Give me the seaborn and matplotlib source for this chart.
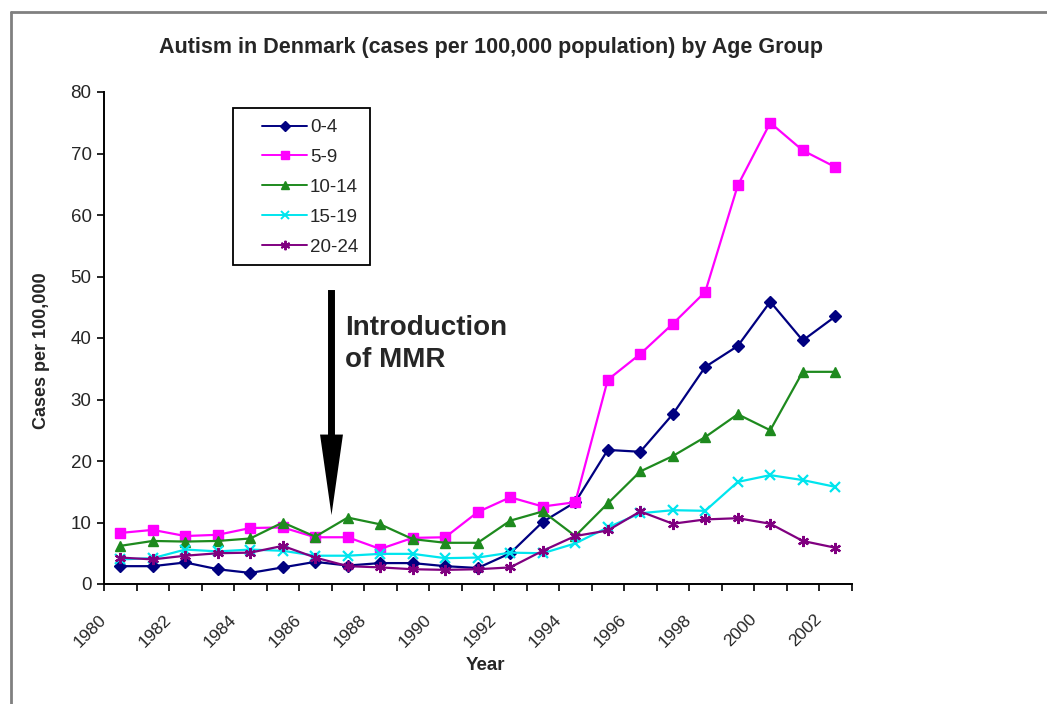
import numpy as np
import pandas as pd
import matplotlib
matplotlib.use("Agg")
import matplotlib.pyplot as plt
import matplotlib.transforms as mtransforms
from matplotlib.patches import Rectangle
from matplotlib.lines import Line2D
import seaborn as sns

# ---- data: autism cases per 100,000 population, Denmark, by age group ----
years = list(range(1980, 2003))
age_0_4 = [2.9, 2.9, 3.5, 2.4, 1.8, 2.7, 3.6, 3.0, 3.4, 3.4, 2.9, 2.6,
           5.0, 10.1, 13.3, 21.8, 21.5, 27.6, 35.3, 38.7, 45.9, 39.6, 43.5]
age_5_9 = [8.3, 8.8, 7.8, 8.0, 9.1, 9.2, 7.6, 7.6, 5.7, 7.5, 7.6, 11.7,
           14.1, 12.6, 13.3, 33.2, 37.4, 42.3, 47.5, 64.8, 75.0, 70.5, 67.8]
age_10_14 = [6.2, 7.0, 6.9, 7.0, 7.4, 10.0, 7.7, 10.8, 9.7, 7.3, 6.7, 6.7,
             10.3, 11.8, 7.8, 13.1, 18.3, 20.8, 23.9, 27.6, 25.0, 34.5, 34.5]
age_15_19 = [4.0, 4.2, 5.6, 5.3, 5.6, 5.4, 4.6, 4.6, 4.9, 4.9, 4.2, 4.3,
             5.1, 5.0, 6.6, 9.2, 11.5, 12.0, 11.9, 16.6, 17.7, 16.9, 15.8]
age_20_24 = [4.3, 4.0, 4.6, 5.0, 5.1, 6.2, 4.3, 2.9, 2.7, 2.4, 2.3, 2.4,
             2.7, 5.4, 7.8, 8.7, 11.8, 9.8, 10.5, 10.7, 9.8, 7.0, 5.9]

groups = ["0-4", "5-9", "10-14", "15-19", "20-24"]
series = [age_0_4, age_5_9, age_10_14, age_15_19, age_20_24]
year_labels = [str(y) for y in years[::2]]

colors = ["#000080", "#FF00FF", "#1E8A1E", "#00E5EE", "#800080"]
markers = ["D", "s", "^", "x", (6, 2, 0)]
msizes = [6.5, 7.5, 7.5, 7, 8]

W, H = 1047, 704


def fx(x):
    return x / W


def fy(y):
    return 1 - y / H


def is_filled(m):
    return m != "x" and not isinstance(m, tuple)


sns.set_style("white")
plt.rcParams["font.family"] = ["Liberation Sans", "DejaVu Sans"]

fig = plt.figure(figsize=(W / 100, H / 100), dpi=100)
ax = fig.add_axes([fx(104), fy(584), (851.5 - 104) / W, (584 - 92) / H])

# category positions: each year occupies one unit, point at its centre
pos = np.arange(len(years)) + 0.5
df = pd.DataFrame({"pos": np.tile(pos, len(groups)),
                   "value": np.concatenate(series),
                   "group": np.repeat(groups, len(years))})

for g, c, m, ms in zip(groups, colors, markers, msizes):
    sub = df[df["group"] == g]
    sns.lineplot(data=sub, x="pos", y="value", ax=ax, color=c, marker=m,
                 markersize=ms, linewidth=1.6, markeredgecolor=c,
                 markerfacecolor=c if is_filled(m) else "none",
                 markeredgewidth=1.0 if is_filled(m) else 1.6,
                 label=g, legend=False)

ax.set_xlim(0, len(years))
ax.set_ylim(0, 80)
ax.set_yticks(np.arange(0, 81, 10))
ax.tick_params(axis="y", which="major", direction="out", length=5, width=1.2,
               labelsize=13.5, pad=4, left=True, color="black")

# tick marks between categories, labels under every second year
ax.set_xticks(np.arange(0, len(years) + 1), minor=True)
ax.set_xticks(pos[::2])
ax.set_xticklabels(year_labels, rotation=45, ha="right", va="top")
ax.tick_params(axis="x", which="minor", direction="out", length=5, width=1.2,
               bottom=True, color="black")
ax.tick_params(axis="x", which="major", length=0, labelsize=12.5, pad=20)
shift = mtransforms.ScaledTranslation(-11 / 100, 0, fig.dpi_scale_trans)
for lbl in ax.get_xticklabels():
    lbl.set_transform(lbl.get_transform() + shift)

for side in ["top", "right"]:
    ax.spines[side].set_visible(False)
for side in ["left", "bottom"]:
    ax.spines[side].set_color("black")
    ax.spines[side].set_linewidth(1.4)
ax.set_xlabel("")
ax.set_ylabel("")
ax.grid(False)

# arrow marking the introduction of MMR
ax.annotate("", xy=(7.0, 11.2), xytext=(7.0, 47.8),
            arrowprops=dict(arrowstyle="simple,head_length=5.8,head_width=1.65,tail_width=0.5",
                            mutation_scale=10, fc="black", ec="black", lw=0,
                            shrinkA=0, shrinkB=0))
fig.text(fx(345), fy(344), "Introduction\nof MMR", fontsize=20, fontweight="bold",
         ha="left", va="center", linespacing=1.3)

# titles
fig.text(fx(491), fy(47), "Autism in Denmark (cases per 100,000 population) by Age Group",
         fontsize=15.5, fontweight="bold", ha="center", va="center")
fig.text(fx(42), fy(351), "Cases per 100,000", fontsize=13, fontweight="bold",
         rotation=90, ha="center", va="center")
fig.text(fx(485), fy(666), "Year", fontsize=13.5, fontweight="bold",
         ha="center", va="center")

# legend with a plain black frame
fig.patches.append(Rectangle((fx(233), fy(265)), fx(370) - fx(233), fy(108) - fy(265),
                             transform=fig.transFigure, fill=False,
                             edgecolor="black", linewidth=1.3))
handles = [Line2D([], [], color=c, marker=m, markersize=ms * 0.85, linewidth=1.4,
                  markeredgecolor=c,
                  markerfacecolor=c if is_filled(m) else "none",
                  markeredgewidth=1.0 if is_filled(m) else 1.4)
           for c, m, ms in zip(colors, markers, msizes)]
fig.legend(handles, groups, loc="upper left", bbox_to_anchor=(fx(262), fy(119)),
           frameon=False, fontsize=13.5, handlelength=2.4, handletextpad=0.15,
           labelspacing=0.68, borderpad=0, borderaxespad=0)

# outer chart-area border
fig.add_artist(Line2D([fx(11), fx(11)], [fy(12), 0], color="#808080", linewidth=2,
                      transform=fig.transFigure))
fig.add_artist(Line2D([fx(11), 1], [fy(12), fy(12)], color="#808080", linewidth=2,
                      transform=fig.transFigure))

fig.savefig("out.png", dpi=100)
